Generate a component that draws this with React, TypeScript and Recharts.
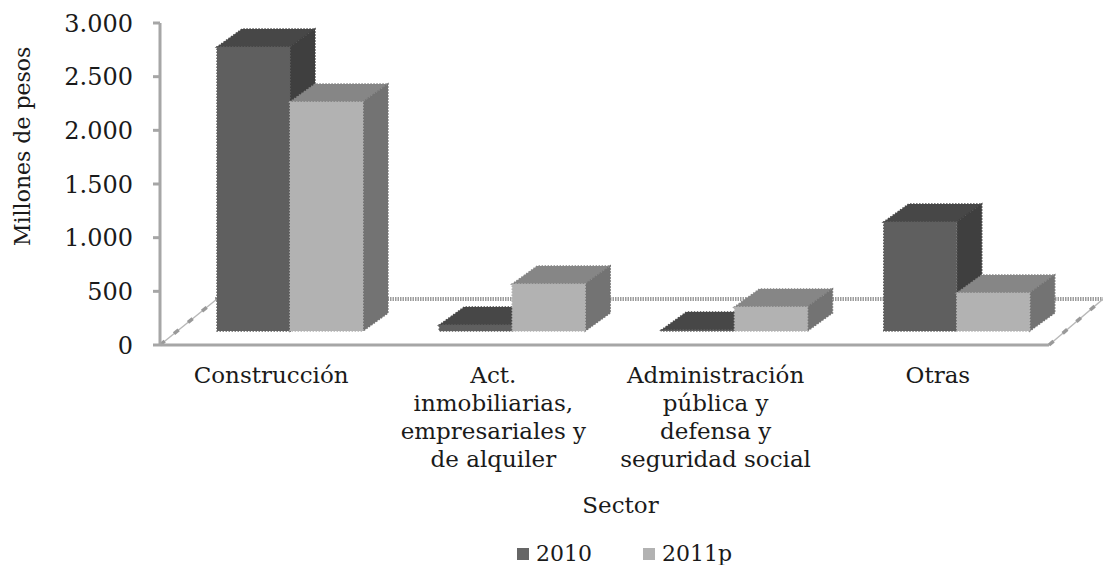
import { BarChart, Bar, XAxis, YAxis, Legend, usePlotArea } from "recharts";

const FONT = "'DejaVu Serif', serif";
const TEXT = "#1a1a1a";
const AXIS = "#a6a6a6";

const sectors = ["Construcción", "Act. inmobiliarias", "Administración pública", "Otras"];
const sectorLines = [
  ["Construcción"],
  ["Act.", "inmobiliarias,", "empresariales y", "de alquiler"],
  ["Administración", "pública y", "defensa y", "seguridad social"],
  ["Otras"],
];
const values2010 = [2646, 56, 10, 1016];
const values2011p = [2134, 438, 224, 354];
const yTicks = [0, 500, 1000, 1500, 2000, 2500, 3000];

const data = sectors.map((sector, i) => ({
  sector,
  y2010: values2010[i],
  y2011p: values2011p[i],
}));

// fake 3d: bars sit in the middle of the floor, depth goes back and to the right
const SHIFT_X = 19;
const SHIFT_Y = -14;
const DEPTH_X = 25;
const DEPTH_Y = -18;

function Bar3D({ x, y, width, height, front, top, side }: any) {
  const l = x + SHIFT_X;
  const r = l + width;
  const t = y + SHIFT_Y;
  const b = t + height;
  const edge = { strokeWidth: 1.5, strokeDasharray: "1.5 1.5" };
  return (
    <g>
      <polygon
        points={`${l},${t} ${r},${t} ${r + DEPTH_X},${t + DEPTH_Y} ${l + DEPTH_X},${t + DEPTH_Y}`}
        fill={top}
        stroke={top}
        {...edge}
      />
      <polygon
        points={`${r},${t} ${r + DEPTH_X},${t + DEPTH_Y} ${r + DEPTH_X},${b + DEPTH_Y} ${r},${b}`}
        fill={side}
        stroke={side}
        {...edge}
      />
      <rect x={l} y={t} width={width} height={height} fill={front} stroke={front} {...edge} />
    </g>
  );
}

function Floor() {
  const plot = usePlotArea();
  if (!plot) return null;
  const bottom = plot.y + plot.height;
  const left = plot.x;
  const right = plot.x + plot.width;
  const backY = bottom - 46;
  return (
    <g>
      <line x1={left + 55} y1={backY} x2={right + 54} y2={backY} stroke="#9c9c9c" strokeWidth={4} strokeDasharray="1.5 1" />
      {[
        [left, left + 57],
        [right, right + 54],
      ].map(([a, b]) => (
        <g key={a}>
          <line x1={a} y1={bottom} x2={b} y2={backY} stroke="#b8b8b8" strokeWidth={1.4} />
          <line x1={a} y1={bottom} x2={b} y2={backY} stroke="#999999" strokeWidth={3.5} strokeDasharray="6 12" />
        </g>
      ))}
    </g>
  );
}

function SectorTick({ x, y, payload, index }: any) {
  const lines = sectorLines[index ?? 0] ?? [payload.value];
  return (
    <text x={x} y={y + 30} textAnchor="middle" fontFamily={FONT} fontSize={23} fill={TEXT}>
      {lines.map((line) => (
        <tspan key={line} x={x} dy={line === lines[0] ? 0 : 28}>
          {line}
        </tspan>
      ))}
    </text>
  );
}

function LegendRow({ payload }: any) {
  return (
    <div style={{ display: "flex", fontFamily: FONT, fontSize: 22, color: TEXT, lineHeight: "30px" }}>
      {(payload ?? []).map((item: any) => (
        <div key={item.value} style={{ display: "flex", alignItems: "center", width: 126 }}>
          <span style={{ width: 12, height: 12, background: item.color, marginRight: 7 }} />
          {item.value}
        </div>
      ))}
    </div>
  );
}

export default function App() {
  return (
    <div style={{ position: "absolute", left: 0, top: 0, width: 1103, height: 565, background: "#fff" }}>
      <BarChart
        width={1103}
        height={565}
        data={data}
        barCategoryGap={38}
        barGap={0}
        margin={{ top: 23, right: 54, bottom: 0, left: 0 }}
      >
        <Floor />
        <XAxis
          dataKey="sector"
          interval={0}
          height={190}
          axisLine={{ stroke: AXIS, strokeWidth: 3 }}
          tickLine={false}
          tick={<SectorTick />}
          label={{ value: "Sector", position: "insideBottom", offset: 22, fontFamily: FONT, fontSize: 23, fill: TEXT, dx: 16 }}
        />
        <YAxis
          width={160}
          domain={[0, 3000]}
          ticks={yTicks}
          interval={0}
          tickFormatter={(v: number) => v.toLocaleString("de-DE")}
          axisLine={{ stroke: AXIS, strokeWidth: 3 }}
          tickLine={{ stroke: AXIS, strokeWidth: 3 }}
          tickSize={7}
          tickMargin={20}
          tick={{ fontFamily: FONT, fontSize: 24, fill: TEXT }}
          label={{ value: "Millones de pesos", angle: -90, position: "insideLeft", offset: 22, dy: 62, dx: 0, fontFamily: FONT, fontSize: 22, fill: TEXT }}
        />
        <Legend content={<LegendRow />} wrapperStyle={{ left: 517, top: 539, width: 300, height: 30, bottom: "auto" }} />
        <Bar
          dataKey="y2010"
          name="2010"
          fill="#666666"
          isAnimationActive={false}
          shape={(p: any) => <Bar3D {...p} front="#5f5f5f" top="#474747" side="#3f3f3f" />}
        />
        <Bar
          dataKey="y2011p"
          name="2011p"
          fill="#b2b2b2"
          isAnimationActive={false}
          shape={(p: any) => <Bar3D {...p} front="#b2b2b2" top="#868686" side="#737373" />}
        />
      </BarChart>
    </div>
  );
}
